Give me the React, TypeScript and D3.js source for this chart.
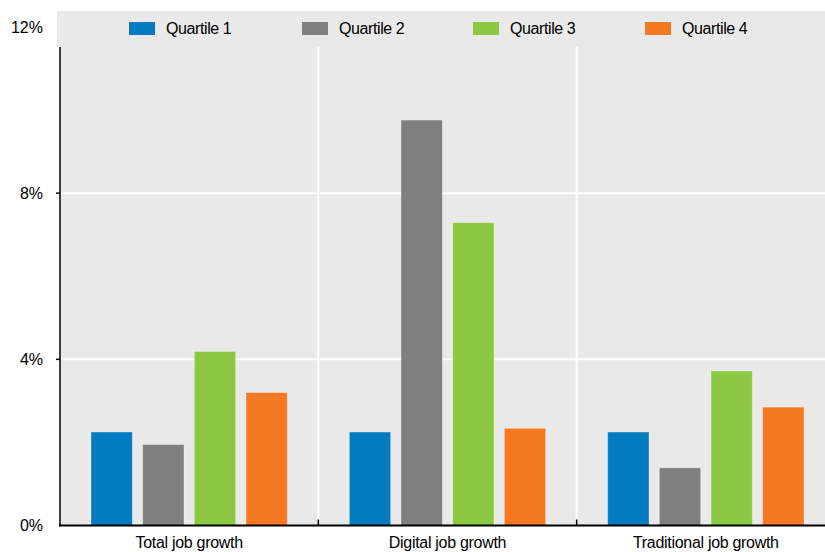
import React from "react";
import * as d3 from "d3";

const categories = ["Total job growth", "Digital job growth", "Traditional job growth"];
const series = ["Quartile 1", "Quartile 2", "Quartile 3", "Quartile 4"];
const q1 = [2.25, 2.25, 2.25];
const q2 = [1.95, 9.76, 1.39];
const q3 = [4.19, 7.29, 3.72];
const q4 = [3.2, 2.34, 2.85];
const colors = ["#037BC1", "#7F7F7F", "#8CC841", "#F47920"];
const yTicks = [0, 4, 8, 12];

const W = 825;
const H = 552;

export default function App() {
  const values = [q1, q2, q3, q4];
  const x = d3.scaleBand<string>().domain(categories).range([60, 835]).paddingInner(0).paddingOuter(0);
  const xi = d3.scaleBand<string>().domain(series).range([0, x.bandwidth()]).paddingInner(0.2).paddingOuter(0.6);
  const y = d3.scaleLinear().domain([0, 12]).range([525.5, 27]);
  const font = "'Liberation Sans', Arial, sans-serif";
  const legendX = [129, 302, 473, 645];

  return (
    <div style={{ position: "fixed", left: 0, top: 0 }}>
      <svg width={W} height={H} style={{ display: "block" }} fontFamily={font}>
        <rect x={0} y={0} width={W} height={H} fill="#fff" />
        <rect x={60} y={11} width={W - 60} height={y(0) - 11} fill="#E9E9E9" />
        {yTicks.filter((t) => t > 0 && t < 12).map((t) => (
          <line key={t} x1={60} x2={W} y1={y(t)} y2={y(t)} stroke="#fff" strokeWidth={2} />
        ))}
        {categories.slice(1).map((c) => (
          <line key={c} x1={x(c)!} x2={x(c)!} y1={11} y2={y(0)} stroke="#fff" strokeWidth={2} />
        ))}
        {categories.map((c, ci) =>
          series.map((s, si) => {
            const v = values[si][ci];
            return (
              <rect
                key={c + s}
                x={x(c)! + xi(s)!}
                y={y(v)}
                width={xi.bandwidth()}
                height={y(0) - y(v)}
                fill={colors[si]}
                stroke="#ffffff"
                strokeOpacity={0.35}
                strokeWidth={1}
              />
            );
          })
        )}
        <rect x={57} y={11} width={W - 57} height={36} fill="#E9E9E9" />
        {series.map((s, si) => (
          <g key={s}>
            <rect x={legendX[si]} y={22} width={26} height={13} fill={colors[si]} />
            <text x={legendX[si] + 37} y={34} fontSize={16} fill="#000" letterSpacing={-0.4}>
              {s}
            </text>
          </g>
        ))}
        <line x1={60} x2={60} y1={47} y2={y(0) + 1} stroke="#000" strokeWidth={1.5} />
        <line x1={59} x2={W} y1={y(0)} y2={y(0)} stroke="#000" strokeWidth={2} />
        {yTicks.filter((t) => t > 0 && t < 12).map((t) => (
          <line key={"tk" + t} x1={56} x2={60} y1={y(t)} y2={y(t)} stroke="#000" strokeWidth={1.5} />
        ))}
        {categories.slice(1).map((c) => (
          <line key={"st" + c} x1={x(c)!} x2={x(c)!} y1={y(0) - 6} y2={y(0)} stroke="#000" strokeWidth={1.5} />
        ))}
        {yTicks.map((t) => (
          <text key={"yl" + t} x={43} y={y(t)} dy="0.35em" textAnchor="end" fontSize={16} fill="#000">
            {`${t}%`}
          </text>
        ))}
        {categories.map((c) => (
          <text key={"xl" + c} x={x(c)! + x.bandwidth() / 2} y={548} textAnchor="middle" fontSize={16} fill="#000" letterSpacing={-0.3}>
            {c}
          </text>
        ))}
      </svg>
    </div>
  );
}
